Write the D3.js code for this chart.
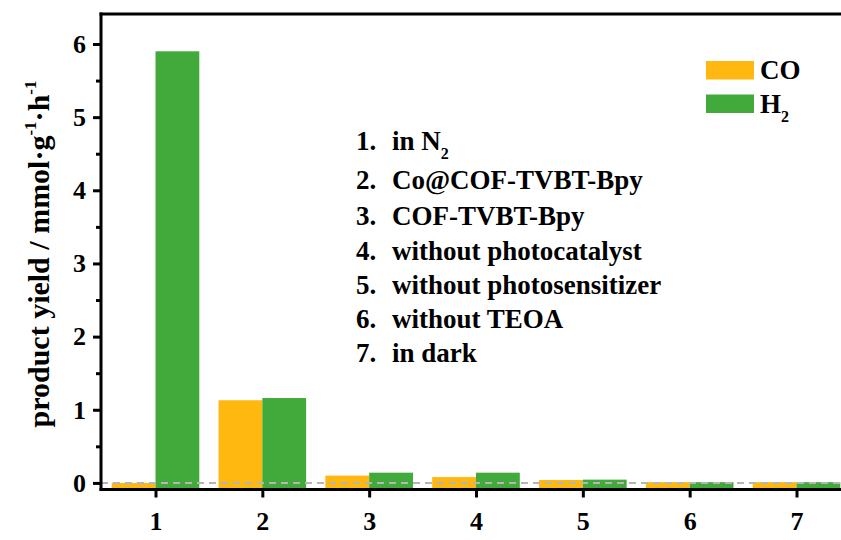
<!DOCTYPE html>
<html>
<head>
<meta charset="utf-8">
<script src="https://cdn.jsdelivr.net/npm/d3@7"></script>
<style>
  html, body { margin: 0; padding: 0; background: #fff; }
  svg { display: block; }
  text { font-family: "Liberation Serif", "Times New Roman", serif; font-weight: bold; fill: #000; }
</style>
</head>
<body>
<svg id="chart" width="841" height="540"></svg>
<script>
// Reaction conditions (x positions 1..7)
const categories = [1, 2, 3, 4, 5, 6, 7];
// Product yields, mmol g^-1 h^-1
const coValues = [0.0, 1.13, 0.10, 0.08, 0.04, 0.01, 0.01];
const h2Values = [5.90, 1.16, 0.14, 0.14, 0.045, 0.01, 0.01];
const yTicks = [0, 1, 2, 3, 4, 5, 6];
const yMinorTicks = [0.5, 1.5, 2.5, 3.5, 4.5, 5.5];
const seriesNames = ["CO", "H2"];
const conditionLabels = [
  { num: "1.", text: "in N", sub: "2" },
  { num: "2.", text: "Co@COF-TVBT-Bpy" },
  { num: "3.", text: "COF-TVBT-Bpy" },
  { num: "4.", text: "without photocatalyst" },
  { num: "5.", text: "without photosensitizer" },
  { num: "6.", text: "without TEOA" },
  { num: "7.", text: "in dark" }
];

const colors = { CO: "#ffb80f", H2: "#42a93b" };

const svg = d3.select("#chart");

const xDomain = [0.49, 7.6];
const yDomain = [-0.09, 6.41];
const x = d3.scaleLinear().domain([1, 7]).range([155.5, 796.5]);
const y = d3.scaleLinear().domain(yDomain).range([489.5, 14]);
const plotLeft = x(xDomain[0]);
const plotRight = x(xDomain[1]);
const plotBottom = y(yDomain[0]);
const plotTop = y(yDomain[1]);
const barW = 0.41;

// bars rise from the bottom of the plot
const g = svg.append("g");
g.selectAll("rect.co").data(categories).join("rect")
  .attr("class", "co")
  .attr("x", d => x(d - barW))
  .attr("width", d => x(d) - x(d - barW))
  .attr("y", (d, i) => y(coValues[i]))
  .attr("height", (d, i) => plotBottom - y(coValues[i]))
  .attr("fill", colors.CO);
g.selectAll("rect.h2").data(categories).join("rect")
  .attr("class", "h2")
  .attr("x", d => x(d))
  .attr("width", d => x(d + barW) - x(d))
  .attr("y", (d, i) => y(h2Values[i]))
  .attr("height", (d, i) => plotBottom - y(h2Values[i]))
  .attr("fill", colors.H2);

// zero reference line
svg.append("line")
  .attr("x1", plotLeft).attr("x2", plotRight)
  .attr("y1", y(0)).attr("y2", y(0))
  .attr("stroke", "#b5b5b5").attr("stroke-width", 2)
  .attr("stroke-dasharray", "7,5");

// frame
svg.append("line").attr("x1", plotLeft - 1.5).attr("x2", plotRight)
  .attr("y1", plotTop).attr("y2", plotTop)
  .attr("stroke", "#000").attr("stroke-width", 3);
svg.append("line").attr("x1", plotRight).attr("x2", plotRight)
  .attr("y1", plotTop).attr("y2", plotBottom)
  .attr("stroke", "#000").attr("stroke-width", 3);

// y axis
const yAxis = d3.axisLeft(y).tickValues(yTicks).tickFormat(d3.format("d"))
  .tickSize(8).tickPadding(7).tickSizeOuter(0);
const ya = svg.append("g").attr("transform", `translate(${plotLeft},0)`).call(yAxis);
ya.selectAll(".tick text").attr("font-size", 26)
  .style("font-family", "'Liberation Serif', serif").style("font-weight", "bold");
const yMinor = d3.axisLeft(y).tickValues(yMinorTicks).tickSize(5).tickFormat("").tickSizeOuter(0);
svg.append("g").attr("transform", `translate(${plotLeft},0)`).call(yMinor)
  .select(".domain").remove();

// x axis
const xAxis = d3.axisBottom(x).tickValues(categories).tickFormat(d3.format("d"))
  .tickSize(8).tickPadding(14).tickSizeOuter(0);
const xa = svg.append("g").attr("transform", `translate(0,${plotBottom})`).call(xAxis);
xa.selectAll(".tick text").attr("font-size", 26)
  .style("font-family", "'Liberation Serif', serif").style("font-weight", "bold");

svg.selectAll(".domain").attr("stroke", "#000").attr("stroke-width", 3);
svg.selectAll(".tick line").attr("stroke", "#000").attr("stroke-width", 3);
ya.select(".domain").attr("d", `M0,${plotTop - 1.5}V${plotBottom + 1.5}`);
xa.select(".domain").attr("d", `M${plotLeft - 1.5},0H${plotRight}`);

// y axis title
const title = svg.append("text")
  .attr("transform", `translate(49,254) rotate(-90)`)
  .attr("text-anchor", "middle")
  .attr("font-size", 30);
title.append("tspan").text("product yield / mmol·g");
title.append("tspan").attr("font-size", 17).attr("dy", -13).text("-1");
title.append("tspan").attr("dy", 13).text("·h");
title.append("tspan").attr("font-size", 17).attr("dy", -13).text("-1");

// legend
const legend = svg.append("g");
seriesNames.forEach((name, i) => {
  const ly = 61 + i * 33.5;
  legend.append("rect").attr("x", 706).attr("y", ly).attr("width", 48).attr("height", 18.5)
    .attr("fill", colors[name]);
  const t = legend.append("text").attr("x", 760).attr("y", ly + 18).attr("font-size", 27);
  if (name === "H2") {
    t.append("tspan").text("H");
    t.append("tspan").attr("font-size", 16).attr("dy", 9).text("2");
  } else {
    t.text(name);
  }
});

// condition list
const baselines = [150, 189, 225, 260, 294, 328, 362];
conditionLabels.forEach((c, i) => {
  svg.append("text").attr("x", 356).attr("y", baselines[i]).attr("font-size", 27).text(c.num);
  const t = svg.append("text").attr("x", 392).attr("y", baselines[i]).attr("font-size", 27);
  t.append("tspan").text(c.text);
  if (c.sub) t.append("tspan").attr("font-size", 16).attr("dy", 9).text(c.sub);
});
</script>
</body>
</html>
